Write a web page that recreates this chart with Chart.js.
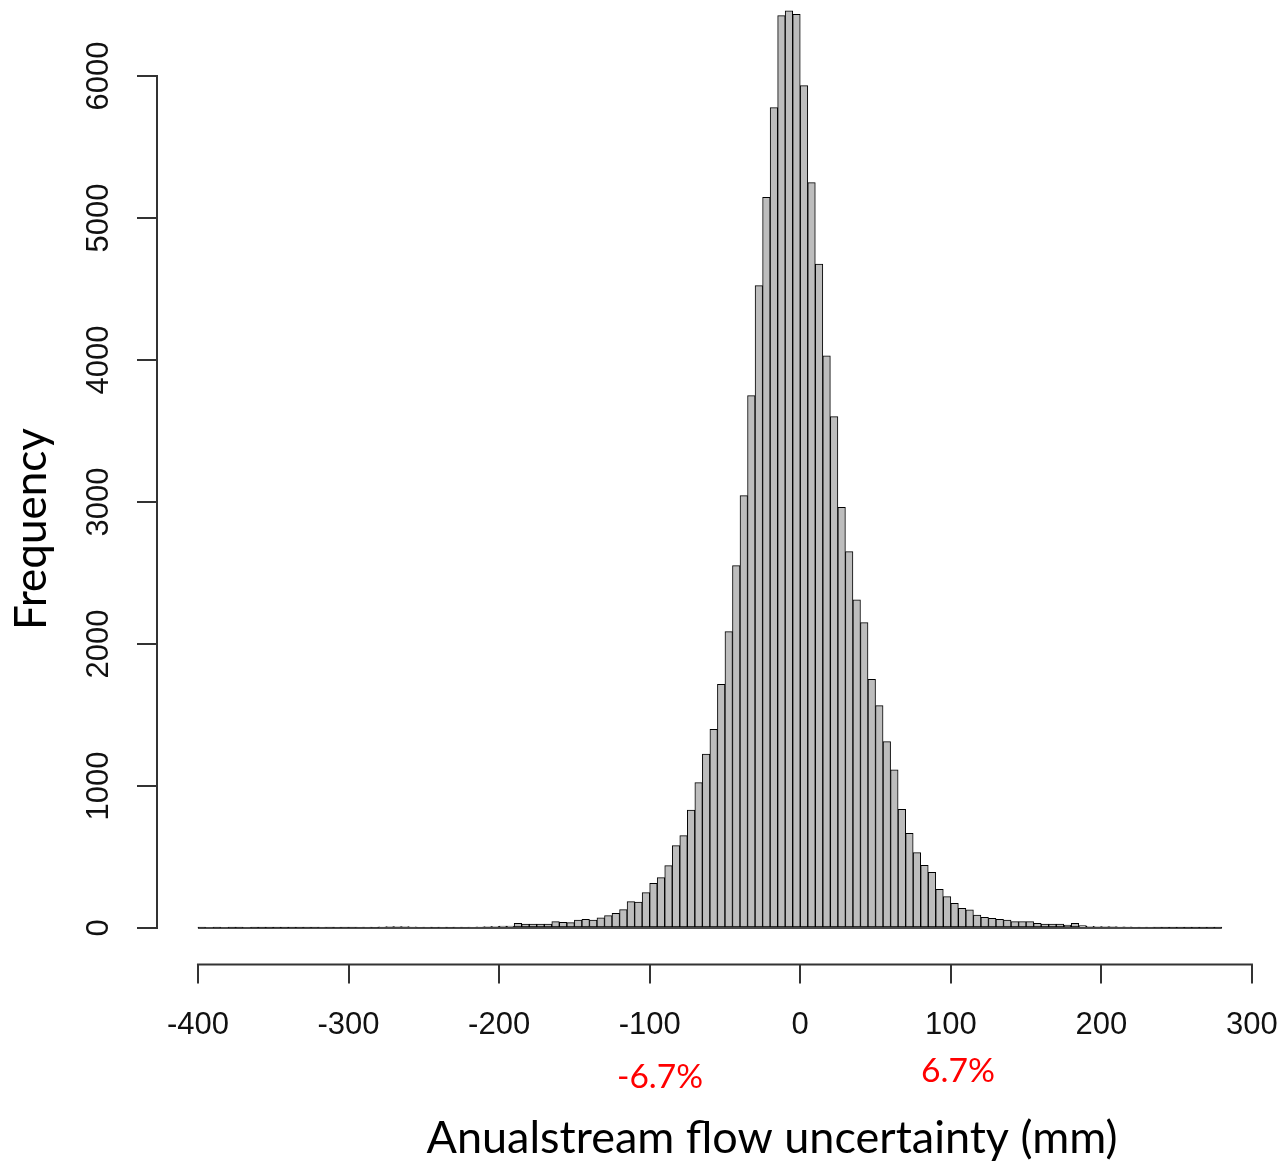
<!DOCTYPE html>
<html>
<head>
<meta charset="utf-8">
<title>Anual streamflow uncertainty</title>
<script src="https://cdn.jsdelivr.net/npm/chart.js@4.4.1/dist/chart.umd.min.js"></script>
<style>
  html, body { margin: 0; padding: 0; background: #fff; }
  #wrap { width: 1285px; height: 1162px; }
</style>
</head>
<body>
<div id="wrap"><canvas id="histChart" width="1285" height="1162"></canvas></div>
<script>
// Histogram: 5 mm bins, first bin starts at -400
const binStart = -400;
const binWidth = 5;
const counts = [
  // -400 .. -205
  1, 0, 1, 0, 1, 1, 0, 1, 1, 1, 2, 1, 2, 2, 3, 2, 5, 3, 4, 3,
  3, 6, 5, 4, 8, 9, 10, 9, 8, 6, 5, 4, 5, 4, 5, 6, 7, 8, 10, 12,
  // -200 .. -105
  14, 14, 33, 28, 28, 28, 28, 45, 40, 38, 56, 61, 56, 72, 87, 103, 129, 185, 183, 249,
  // -100 .. -5
  315, 354, 439, 580, 650, 831, 1023, 1225, 1399, 1716,
  2087, 2552, 3045, 3749, 4523, 5146, 5777, 6425, 6458, 6434,
  // 0 .. 95
  5932, 5249, 4676, 4030, 3601, 2963, 2650, 2310, 2150, 1751,
  1566, 1312, 1113, 836, 667, 530, 441, 392, 272, 221,
  // 100 .. 195
  174, 139, 127, 90, 75, 68, 61, 56, 45, 45, 45, 33, 28, 28, 28, 21, 33, 16, 12, 10,
  // 200 .. 275
  10, 9, 8, 8, 6, 5, 5, 3, 2, 2, 2, 1, 1, 1, 1, 1
];
const xTicks = [-400, -300, -200, -100, 0, 100, 200, 300];
const yTicks = [0, 1000, 2000, 3000, 4000, 5000, 6000];
const pctLabels = ['-6.7%', '6.7%'];
const xTitle = 'Anualstream flow uncertainty (mm)';
const yTitle = 'Frequency';

const axisFont = '"Liberation Sans", Arial, sans-serif';
const noteFont = 'Lato, "Open Sans", sans-serif';

// font size that makes text span a given width
function fitSize(ctx, text, family, width) {
  ctx.font = `100px ${family}`;
  return 100 * width / ctx.measureText(text).width;
}

// --- R style axes: lines only over the tick range, rotated y labels ---
const rAxes = {
  id: 'rAxes',
  afterDatasetsDraw(chart) {
    const { ctx, scales: { x, y } } = chart;
    // zero height bins show as a line along the bottom
    ctx.save();
    ctx.strokeStyle = '#111';
    ctx.lineWidth = 1.5;
    ctx.beginPath();
    ctx.moveTo(x.getPixelForValue(binStart), y.getPixelForValue(0));
    ctx.lineTo(x.getPixelForValue(binStart + counts.length * binWidth), y.getPixelForValue(0));
    ctx.stroke();
    ctx.restore();
  },
  afterDraw(chart) {
    const { ctx, chartArea, scales: { x, y } } = chart;
    ctx.save();
    ctx.strokeStyle = '#333';
    ctx.lineWidth = 2;
    ctx.lineCap = 'square';
    ctx.beginPath();
    ctx.moveTo(x.getPixelForValue(xTicks[0]), chartArea.bottom);
    ctx.lineTo(x.getPixelForValue(xTicks[xTicks.length - 1]), chartArea.bottom);
    ctx.moveTo(chartArea.left, y.getPixelForValue(yTicks[0]));
    ctx.lineTo(chartArea.left, y.getPixelForValue(yTicks[yTicks.length - 1]));
    ctx.stroke();

    // y tick labels, reading upwards
    ctx.fillStyle = '#111';
    ctx.font = `31px ${axisFont}`;
    ctx.textAlign = 'center';
    ctx.textBaseline = 'middle';
    yTicks.forEach(v => {
      ctx.save();
      ctx.translate(chartArea.left - 58, y.getPixelForValue(v));
      ctx.rotate(-Math.PI / 2);
      ctx.fillText(String(v), 0, 0);
      ctx.restore();
    });

    // titles and the red percentage notes
    ctx.fillStyle = '#000';
    ctx.font = `${fitSize(ctx, xTitle, noteFont, 691)}px ${noteFont}`;
    ctx.fillText(xTitle, 772, 1138);

    ctx.save();
    ctx.font = `${fitSize(ctx, yTitle, noteFont, 202)}px ${noteFont}`;
    ctx.translate(32, 529);
    ctx.rotate(-Math.PI / 2);
    ctx.fillText(yTitle, 0, 0);
    ctx.restore();

    ctx.fillStyle = '#ff0000';
    ctx.font = `${fitSize(ctx, pctLabels[0], noteFont, 86)}px ${noteFont}`;
    ctx.fillText(pctLabels[0], 660, 1077);
    ctx.font = `${fitSize(ctx, pctLabels[1], noteFont, 74)}px ${noteFont}`;
    ctx.fillText(pctLabels[1], 958, 1071);
    ctx.restore();
  }
};

const barData = counts.map((c, i) => ({ x: binStart + binWidth * (i + 0.5), y: c }));

new Chart(document.getElementById('histChart').getContext('2d'), {
  type: 'bar',
  data: {
    datasets: [{
      data: barData,
      backgroundColor: '#bdbdbd',
      borderColor: '#000',
      borderWidth: 1,
      borderSkipped: false,
      barPercentage: 1,
      categoryPercentage: 1
    }]
  },
  options: {
    responsive: false,
    animation: false,
    layout: { padding: { left: 137, right: 22.2, top: 0, bottom: 0 } },
    plugins: { legend: { display: false }, tooltip: { enabled: false } },
    scales: {
      x: {
        type: 'linear',
        min: -427.2,
        max: 307.2,
        offset: false,
        border: { display: false },
        grid: { offset: false, drawOnChartArea: false, drawTicks: true, tickLength: 19, color: '#333', lineWidth: 2 },
        ticks: { font: { family: axisFont, size: 31 }, color: '#111', padding: 23, maxRotation: 0, autoSkip: false },
        afterBuildTicks: s => { s.ticks = xTicks.map(v => ({ value: v })); },
        afterFit: s => {
          s.height = 197.4;
          // labels may run past the plot edges, as in R
          s.paddingLeft = 0;
          s.paddingRight = 0;
        }
      },
      y: {
        min: -258,
        max: 6535,
        border: { display: false },
        grid: { drawOnChartArea: false, drawTicks: true, tickLength: 20, color: '#333', lineWidth: 2 },
        ticks: { display: false },
        afterBuildTicks: s => { s.ticks = yTicks.map(v => ({ value: v })); }
      }
    }
  },
  plugins: [rAxes]
});
</script>
</body>
</html>
